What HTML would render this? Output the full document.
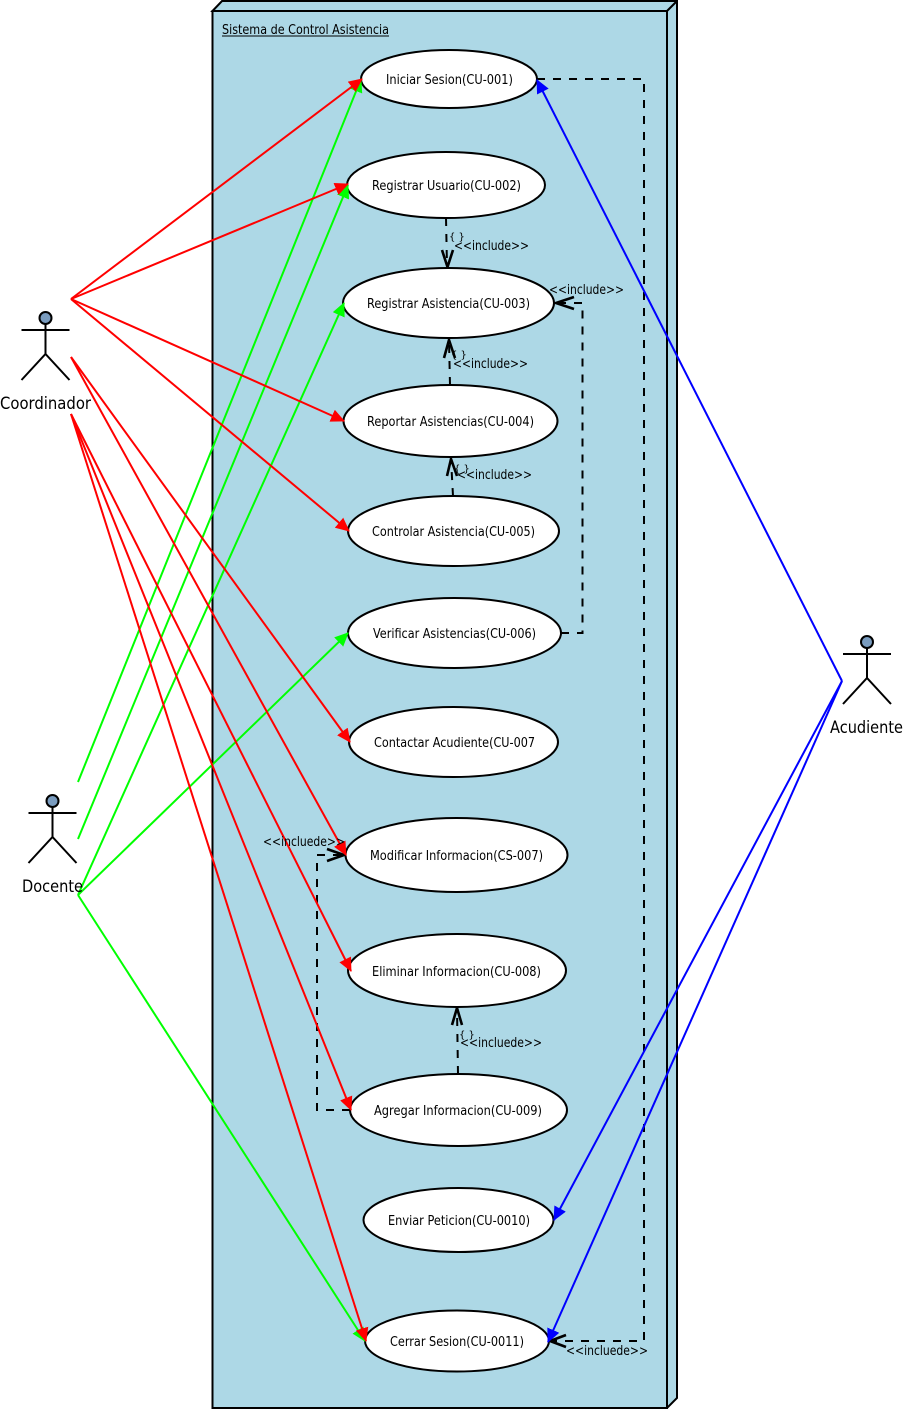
<!DOCTYPE html>
<html><head><meta charset="utf-8"><style>
html,body{margin:0;padding:0;background:#fff}
svg{display:block}
text{font-family:"DejaVu Sans",sans-serif;font-size:13px;fill:#000}
.a{font-size:17px}
.b{font-size:10px}
.e{fill:#fff;stroke:#000;stroke-width:2}
.d{fill:none;stroke:#000;stroke-width:2;stroke-dasharray:8 8}
.o{fill:none;stroke:#000;stroke-width:2.6}
.r line{stroke:#f00;stroke-width:2;marker-end:url(#mr)}
.g line{stroke:#0f0;stroke-width:2;marker-end:url(#mg)}
.l line{stroke:#00f;stroke-width:2;marker-end:url(#mb)}
.s{fill:none;stroke:#000;stroke-width:2}
</style></head><body>
<svg xmlns="http://www.w3.org/2000/svg" width="904" height="1409" viewBox="0 0 904 1409">
<defs>
<marker id="mr" markerUnits="userSpaceOnUse" viewBox="0 0 14 13" refX="13" refY="6.500" markerWidth="14" markerHeight="13" orient="auto"><path d="M0 0 L14 6.500 L0 13 Z" fill="#f00"/></marker>
<marker id="mg" markerUnits="userSpaceOnUse" viewBox="0 0 14 13" refX="13" refY="6.500" markerWidth="14" markerHeight="13" orient="auto"><path d="M0 0 L14 6.500 L0 13 Z" fill="#0f0"/></marker>
<marker id="mb" markerUnits="userSpaceOnUse" viewBox="0 0 14 13" refX="13" refY="6.500" markerWidth="14" markerHeight="13" orient="auto"><path d="M0 0 L14 6.500 L0 13 Z" fill="#00f"/></marker>
</defs>
<path d="M212.500 11 L222 1 L677 1 L677 1398 L667 1408 L667 11 Z" fill="#add8e6" stroke="#000" stroke-width="2"/>
<line x1="667" y1="11" x2="677" y2="1" stroke="#000" stroke-width="2"/>
<rect x="212.500" y="11" width="454.500" height="1397" fill="#add8e6" stroke="#000" stroke-width="2"/>
<text x="222" y="34" textLength="167" lengthAdjust="spacingAndGlyphs">Sistema de Control Asistencia</text>
<line x1="222" y1="36" x2="389" y2="36" stroke="#000" stroke-width="1"/>

<g class="s">
<path d="M446 218 L447 266" class="d"/>
<path d="M450 385 L449 340" class="d"/>
<path d="M453 496 L451 459" class="d"/>
<path d="M458 1074 L457 1009" class="d"/>
<path d="M561 633 H582.500 V303 H556" class="d"/>
<path d="M537 79 H644 V1341 H551" class="d"/>
<path d="M350 1110 H317 V855 H344" class="d"/>
</g>
<path class="o" d="M442 250 L447.500 267 L453 250"/>
<path class="o" d="M444 358 L449 340 L455 358"/>
<path class="o" d="M447 476 L451 459 L457 476"/>
<path class="o" d="M452 1025 L457 1008 L462 1025"/>
<path class="o" d="M574 297 L556 303 L574 309"/>
<path class="o" d="M566 1335 L550 1341 L566 1347"/>
<path class="o" d="M327 849 L344 855 L327 861"/>

<ellipse class="e" cx="449" cy="79" rx="88" ry="29"/>
<ellipse class="e" cx="446" cy="185" rx="99" ry="33"/>
<ellipse class="e" cx="448.500" cy="303" rx="105.500" ry="35"/>
<ellipse class="e" cx="450.500" cy="421" rx="107" ry="36"/>
<ellipse class="e" cx="453.500" cy="531" rx="105.500" ry="35"/>
<ellipse class="e" cx="454.500" cy="633" rx="106.500" ry="35"/>
<ellipse class="e" cx="453.500" cy="742" rx="104.500" ry="35"/>
<ellipse class="e" cx="456.500" cy="855" rx="111" ry="37"/>
<ellipse class="e" cx="457" cy="970.500" rx="109" ry="36.500"/>
<ellipse class="e" cx="458.500" cy="1110" rx="108.500" ry="36"/>
<ellipse class="e" cx="458.500" cy="1220" rx="95" ry="32"/>
<ellipse class="e" cx="457" cy="1341" rx="92" ry="30.500"/>

<g class="g">
<line x1="78" y1="782" x2="361" y2="79"/>
<line x1="78" y1="839" x2="348" y2="185"/>
<line x1="78" y1="895" x2="344" y2="303"/>
<line x1="78" y1="895" x2="348" y2="633"/>
<line x1="78" y1="895" x2="365" y2="1341"/>
</g>
<g class="r">
<line x1="71" y1="299" x2="362" y2="79"/>
<line x1="71" y1="299" x2="348" y2="184"/>
<line x1="71" y1="299" x2="344" y2="421"/>
<line x1="71" y1="299" x2="349" y2="531"/>
<line x1="71" y1="357" x2="350" y2="742"/>
<line x1="71" y1="357" x2="346" y2="855"/>
<line x1="71" y1="414" x2="351" y2="971"/>
<line x1="71" y1="414" x2="351" y2="1110"/>
<line x1="71" y1="414" x2="366" y2="1341"/>
</g>
<g class="l">
<line x1="842" y1="681" x2="537" y2="80"/>
<line x1="842" y1="681" x2="554" y2="1220"/>
<line x1="842" y1="681" x2="548" y2="1342"/>
</g>

<g text-anchor="start">
<text x="386" y="84" textLength="127" lengthAdjust="spacingAndGlyphs">Iniciar Sesion(CU-001)</text>
<text x="372" y="190" textLength="149" lengthAdjust="spacingAndGlyphs">Registrar Usuario(CU-002)</text>
<text x="367" y="308" textLength="163" lengthAdjust="spacingAndGlyphs">Registrar Asistencia(CU-003)</text>
<text x="367" y="426" textLength="167" lengthAdjust="spacingAndGlyphs">Reportar Asistencias(CU-004)</text>
<text x="372" y="536" textLength="163" lengthAdjust="spacingAndGlyphs">Controlar Asistencia(CU-005)</text>
<text x="373" y="638" textLength="163" lengthAdjust="spacingAndGlyphs">Verificar Asistencias(CU-006)</text>
<text x="374" y="747" textLength="161" lengthAdjust="spacingAndGlyphs">Contactar Acudiente(CU-007</text>
<text x="370" y="860" textLength="173" lengthAdjust="spacingAndGlyphs">Modificar Informacion(CS-007)</text>
<text x="372" y="976" textLength="169" lengthAdjust="spacingAndGlyphs">Eliminar Informacion(CU-008)</text>
<text x="374" y="1115" textLength="168" lengthAdjust="spacingAndGlyphs">Agregar Informacion(CU-009)</text>
<text x="388" y="1225" textLength="142" lengthAdjust="spacingAndGlyphs">Enviar Peticion(CU-0010)</text>
<text x="390" y="1346" textLength="134" lengthAdjust="spacingAndGlyphs">Cerrar Sesion(CU-0011)</text>

<text x="454" y="250" textLength="75" lengthAdjust="spacingAndGlyphs">&lt;&lt;include&gt;&gt;</text>
<text x="549" y="294" textLength="75" lengthAdjust="spacingAndGlyphs">&lt;&lt;include&gt;&gt;</text>
<text x="453" y="368" textLength="75" lengthAdjust="spacingAndGlyphs">&lt;&lt;include&gt;&gt;</text>
<text x="457" y="479" textLength="75" lengthAdjust="spacingAndGlyphs">&lt;&lt;include&gt;&gt;</text>
<text x="263" y="846" textLength="82" lengthAdjust="spacingAndGlyphs">&lt;&lt;incluede&gt;&gt;</text>
<text x="460" y="1047" textLength="82" lengthAdjust="spacingAndGlyphs">&lt;&lt;incluede&gt;&gt;</text>
<text x="566" y="1355" textLength="82" lengthAdjust="spacingAndGlyphs">&lt;&lt;incluede&gt;&gt;</text>
<text class="b" x="449" y="240">{ }</text>
<text class="b" x="451" y="358">{ }</text>
<text class="b" x="454" y="472">{ }</text>
<text class="b" x="459" y="1038">{ }</text>
</g>

<g class="s">
<circle cx="45.500" cy="318" r="6" fill="#7a9cbf"/>
<path d="M45.500 324 V354 M21.500 330 H69.500 M21.500 380 L45.500 354 L69.500 380"/>
<circle cx="52.500" cy="801" r="6" fill="#7a9cbf"/>
<path d="M52.500 807 V837 M28.500 813 H76.500 M28.500 863 L52.500 837 L76.500 863"/>
<circle cx="867" cy="642" r="6" fill="#7a9cbf"/>
<path d="M867 648 V678 M843 654 H891 M843 704 L867 678 L891 704"/>
</g>
<text class="a" x="0" y="409" textLength="91" lengthAdjust="spacingAndGlyphs">Coordinador</text>
<text class="a" x="22" y="892" textLength="61" lengthAdjust="spacingAndGlyphs">Docente</text>
<text class="a" x="830" y="733" textLength="73" lengthAdjust="spacingAndGlyphs">Acudiente</text>
</svg>
</body></html>
